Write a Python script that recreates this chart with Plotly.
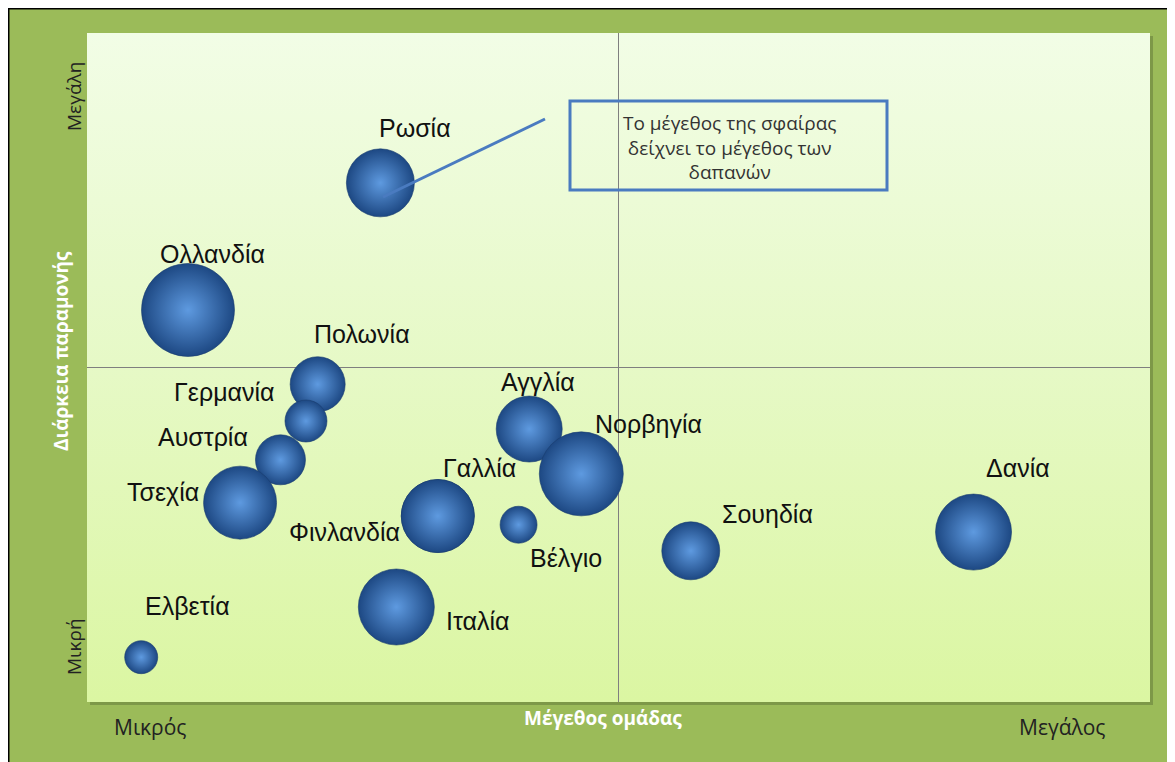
import plotly.graph_objects as go

# ---------------- data ----------------
countries = ["Ρωσία", "Ολλανδία", "Πολωνία", "Γερμανία", "Αυστρία", "Τσεχία",
             "Ελβετία", "Φινλανδία", "Γαλλία", "Ιταλία", "Αγγλία", "Βέλγιο",
             "Νορβηγία", "Σουηδία", "Δανία"]
group_size = [2.76, 0.95, 2.17, 2.06, 1.82, 1.44, 0.51, 3.30, 3.30, 2.91, 4.16, 4.06,
              4.65, 5.68, 8.34]          # Μέγεθος ομάδας (0 = Μικρός, 10 = Μεγάλος)
stay_length = [7.76, 5.86, 4.75, 4.20, 3.62, 2.98, 0.67, 2.78, 2.78, 1.42, 4.08, 2.65,
               3.41, 2.26, 2.54]         # Διάρκεια παραμονής (0 = Μικρή, 10 = Μεγάλη)
spending = [53.5, 100, 35, 20.4, 28.9, 61.6, 12.6, 61.6, 61.6, 66.8, 50.4, 15.8,
            81.6, 38.9, 66.8]            # μέγεθος δαπανών (σχετικό)

x_tick_labels = ["Μικρός", "Μεγάλος"]
y_tick_labels = ["Μικρή", "Μεγάλη"]
x_title = "Μέγεθος ομάδας"
y_title = "Διάρκεια παραμονής"
callout_lines = ["Το μέγεθος της σφαίρας", "δείχνει το μέγεθος των", "δαπανών"]

# label offsets in pixels (style only)
label_offsets = {
    "Ρωσία": (35, 55), "Ολλανδία": (25, 56), "Πολωνία": (44, 50),
    "Γερμανία": (-81, 29), "Αυστρία": (-77, 23), "Τσεχία": (-77, 11),
    "Ελβετία": (46, 51), "Φινλανδία": (-93, -16), "Γαλλία": (42, 48),
    "Ιταλία": (81, -14), "Αγγλία": (9, 47), "Βέλγιο": (47, -33),
    "Νορβηγία": (67, 50), "Σουηδία": (77, 37), "Δανία": (44, 64),
}

XR = [0, 10]
YR = [0, 10]
MID_X = 5
MID_Y = 5

OFF = 8                     # page body margin
W, H = 1167, 754
ML, MT = 79, 25
PW, PH = 1063, 669
MR = W - ML - PW
MB = H - MT - PH


def px_x(p):
    """screen px -> paper x"""
    return (p - OFF - ML) / PW


def px_y(p):
    """screen px -> paper y"""
    return (MT + PH - (p - OFF)) / PH


fig = go.Figure()

# plot-area gradient background
fig.add_trace(go.Scatter(
    x=[XR[0], XR[1], XR[1], XR[0], XR[0]],
    y=[YR[0], YR[0], YR[1], YR[1], YR[0]],
    mode="lines", line=dict(width=0), fill="toself",
    fillgradient=dict(type="vertical", start=YR[0], stop=YR[1],
                      colorscale=[[0, "#dbf6a2"], [0.5, "#e6f9c6"], [1, "#f2fde6"]]),
    hoverinfo="skip", showlegend=False))

# quadrant lines
fig.add_trace(go.Scatter(x=[MID_X, MID_X], y=YR, mode="lines",
                         line=dict(color="#7f7f7f", width=1),
                         hoverinfo="skip", showlegend=False))
fig.add_trace(go.Scatter(x=XR, y=[MID_Y, MID_Y], mode="lines",
                         line=dict(color="#7f7f7f", width=1),
                         hoverinfo="skip", showlegend=False))

# bubbles
max_d = 93
fig.add_trace(go.Scatter(
    x=group_size, y=stay_length, mode="markers",
    marker=dict(size=spending, sizemode="area",
                sizeref=2 * max(spending) / max_d ** 2,
                color="#1d4883", opacity=1,
                gradient=dict(type="radial", color="#5e9ae0"),
                line=dict(width=0.6, color="#1a3c6e")),
    text=countries, hoverinfo="text", showlegend=False))

annotations = []
for name, xv, yv in zip(countries, group_size, stay_length):
    dx, dy = label_offsets[name]
    annotations.append(dict(x=xv, y=yv, xref="x", yref="y", text=name,
                            showarrow=False, xshift=dx, yshift=dy,
                            xanchor="center", yanchor="middle",
                            font=dict(family="Liberation Sans, Arial", size=25,
                                      color="#111111")))


def pann(sx, sy, text, font, angle=0):
    return dict(x=px_x(sx), y=px_y(sy), xref="paper", yref="paper", text=text,
                showarrow=False, xanchor="center", yanchor="middle",
                textangle=angle, font=font)


xtick_font = dict(family="Open Sans", size=21, color="#222222")
ytick_font = dict(family="Open Sans", size=19, color="#222222")
title_font = dict(family="Open Sans", size=19, color="white")
call_font = dict(family="Open Sans", size=19, color="#333333")

annotations += [
    pann(150, 727, x_tick_labels[0], xtick_font),
    pann(1062, 727, x_tick_labels[1], xtick_font),
    pann(74, 647, y_tick_labels[0], ytick_font, -90),
    pann(74, 97, y_tick_labels[1], ytick_font, -90),
    pann(603, 718, f"<b>{x_title}</b>", title_font),
    pann(61, 351, f"<b>{y_title}</b>", title_font, -90),
    pann(729, 147, "<br>".join(callout_lines), call_font),
]

shapes = [
    # outer green frame with black top/left border
    dict(type="rect", xref="paper", yref="paper", layer="below",
         x0=px_x(8.5), x1=px_x(1200), y0=px_y(790), y1=px_y(8.5),
         fillcolor="#9bbb59", line=dict(color="black", width=2)),
    # darker right edge
    dict(type="rect", xref="paper", yref="paper", layer="below",
         x0=px_x(1171), x1=px_x(1200), y0=px_y(790), y1=px_y(9.5),
         fillcolor="#76913f", line=dict(width=0)),
    # plot-area shadow
    dict(type="rect", xref="paper", yref="paper", layer="below",
         x0=px_x(90), x1=px_x(1153), y0=px_y(705), y1=px_y(36),
         fillcolor="#7d9848", line=dict(width=0)),
    # callout box
    dict(type="rect", xref="paper", yref="paper", layer="above",
         x0=px_x(570), x1=px_x(887), y0=px_y(190), y1=px_y(101),
         fillcolor="rgba(0,0,0,0)", line=dict(color="#4a7bc0", width=3)),
    # callout leader line
    dict(type="line", xref="paper", yref="paper", layer="above",
         x0=px_x(545), y0=px_y(119), x1=px_x(383), y1=px_y(197),
         line=dict(color="#4a7bc0", width=3)),
]

fig.update_layout(
    width=W, height=H,
    margin=dict(l=ML, r=MR, t=MT, b=MB),
    paper_bgcolor="#9bbb59", plot_bgcolor="#e8f9c8",
    xaxis=dict(range=XR, showgrid=False, zeroline=False, showticklabels=False,
               showline=False, fixedrange=True),
    yaxis=dict(range=YR, showgrid=False, zeroline=False, showticklabels=False,
               showline=False, fixedrange=True),
    annotations=annotations, shapes=shapes, showlegend=False,
)

fig.write_html(
    "out.html",
    post_script="document.documentElement.style.overflow='hidden';"
                "document.body.style.overflow='hidden';",
)
